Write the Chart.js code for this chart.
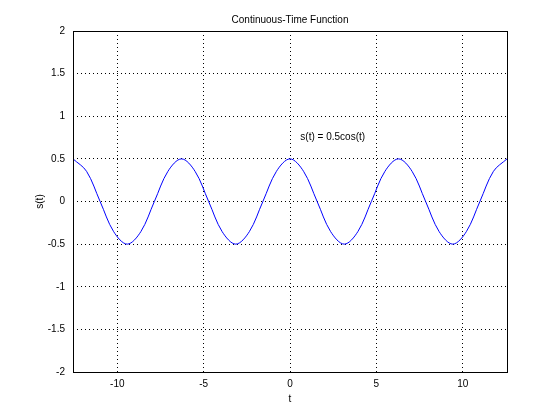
<!DOCTYPE html>
<html>
<head>
<script src="https://cdn.jsdelivr.net/npm/chart.js@4"></script>
<style>
  body { margin: 0; background: #fff; }
  #wrap { width: 560px; height: 420px; }
</style>
</head>
<body>
<div id="wrap"><canvas id="c" width="560" height="420"></canvas></div>
<script>
// sample times (steps of pi/4 from -4pi to 4pi) and values
const tValues = [-12.566, -11.781, -10.996, -10.210, -9.425, -8.639, -7.854, -7.069,
  -6.283, -5.498, -4.712, -3.927, -3.142, -2.356, -1.571, -0.785,
  0, 0.785, 1.571, 2.356, 3.142, 3.927, 4.712, 5.498,
  6.283, 7.069, 7.854, 8.639, 9.425, 10.210, 10.996, 11.781, 12.566];
const sValues = [0.5, 0.354, 0, -0.354, -0.5, -0.354, 0, 0.354,
  0.5, 0.354, 0, -0.354, -0.5, -0.354, 0, 0.354,
  0.5, 0.354, 0, -0.354, -0.5, -0.354, 0, 0.354,
  0.5, 0.354, 0, -0.354, -0.5, -0.354, 0, 0.354, 0.5];
const xTicks = [-10, -5, 0, 5, 10];
const yTicks = [-2, -1.5, -1, -0.5, 0, 0.5, 1, 1.5, 2];

const font = { family: 'Liberation Sans, Arial', size: 10 };

// frame, title, axis labels and annotation like the original figure
const decor = {
  id: 'decor',
  afterDraw(chart) {
    const { ctx, chartArea: a, scales } = chart;
    ctx.save();
    ctx.strokeStyle = '#000';
    ctx.lineWidth = 1;
    ctx.strokeRect(a.left + 0.5, a.top + 0.5, a.right - a.left, a.bottom - a.top);
    ctx.fillStyle = '#000';
    ctx.font = '10px Liberation Sans, Arial';
    ctx.textAlign = 'center';
    ctx.fillText('Continuous-Time Function', (a.left + a.right) / 2, a.top - 8);
    ctx.fillText('t', (a.left + a.right) / 2, a.bottom + 30);
    ctx.textAlign = 'left';
    ctx.fillText('s(t) = 0.5cos(t)', scales.x.getPixelForValue(0.6), scales.y.getPixelForValue(0.72));
    ctx.translate(a.left - 30, (a.top + a.bottom) / 2);
    ctx.rotate(-Math.PI / 2);
    ctx.textAlign = 'center';
    ctx.fillText('s(t)', 0, 0);
    ctx.restore();
  }
};

new Chart(document.getElementById('c'), {
  type: 'line',
  data: {
    datasets: [{
      data: tValues.map((t, i) => ({ x: t, y: sValues[i] })),
      borderColor: '#0000ff',
      borderWidth: 1,
      pointRadius: 0,
      tension: 0.35
    }]
  },
  options: {
    responsive: false,
    animation: false,
    layout: { padding: { top: 31, right: 53 } },
    plugins: { legend: { display: false }, tooltip: { enabled: false } },
    scales: {
      x: {
        type: 'linear', min: -12.566, max: 12.566,
        afterBuildTicks: s => { s.ticks = xTicks.map(v => ({ value: v })); },
        afterFit: s => { s.height = 48; },
        grid: { color: '#000', drawTicks: false },
        border: { display: false, dash: [1, 3] },
        ticks: { color: '#000', font, padding: 6, maxRotation: 0, callback: v => String(v) }
      },
      y: {
        type: 'linear', min: -2, max: 2,
        afterBuildTicks: s => { s.ticks = yTicks.map(v => ({ value: v })); },
        afterFit: s => { s.width = 73; },
        grid: { color: '#000', drawTicks: false },
        border: { display: false, dash: [1, 3] },
        ticks: { color: '#000', font, padding: 8, callback: v => String(v) }
      }
    }
  },
  plugins: [decor]
});
</script>
</body>
</html>
